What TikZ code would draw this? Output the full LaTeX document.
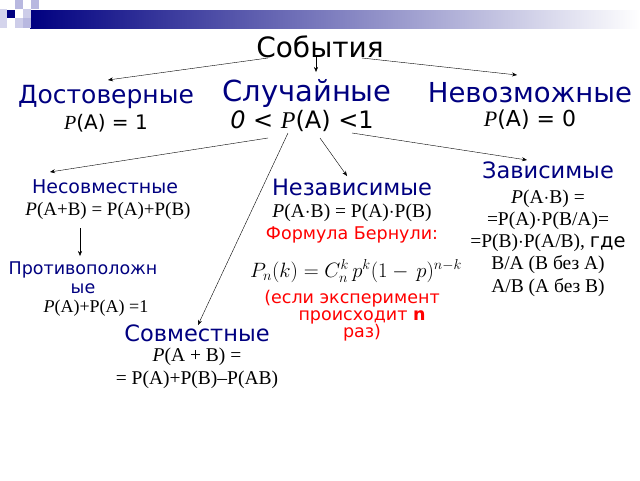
\documentclass[tikz,border=0pt]{standalone}
\usepackage{fontspec}
\setmainfont{DejaVu Sans}
\newfontfamily\ser{Liberation Serif}
\usetikzlibrary{arrows.meta}
\definecolor{navy}{HTML}{000080}
\definecolor{lav}{HTML}{B8B8E0}
\begin{document}
\begin{tikzpicture}[x=1pt,y=-1pt,
  head/.style={text=navy,inner sep=0pt,align=center},
  txt/.style={inner sep=0pt,align=center},
  red/.style={text=red,inner sep=0pt,align=center,font=\fontsize{17.5}{17}\selectfont},
  arr/.style={-{Stealth[length=5pt,width=4pt]},thin}]
\useasboundingbox (0,0) rectangle (640,480);
\fill[white] (0,0) rectangle (640,480);
% header
\shade[left color=navy,right color=white] (30,10) rectangle (640,28);
\fill[lav] (15,0) rectangle (23,9);
\fill[lav] (31,0) rectangle (39,9);
\fill[lav!70] (23,9) rectangle (31,18);
\fill[lav!70] (15,18) rectangle (23,28);
\fill[lav] (23,18) rectangle (31,28);
\fill[lav!60] (0,9) rectangle (7,28);
\fill[navy] (7,10) rectangle (15,18);
% nodes
\node[txt,font=\fontsize{28}{30}\selectfont] (ev) at (320,47) {События};
\node[head,font=\fontsize{25}{27}\selectfont] (dost) at (106,97) {Достоверные};
\node[txt,text=black,font=\fontsize{20}{22}\selectfont] (dostf) at (106,123) {{\ser\itshape P}(А) = 1};
\node[head,font=\fontsize{29}{31}\selectfont] (sl) at (307,93) {Случайные};
\node[txt,font=\fontsize{24}{26}\selectfont] (slf) at (302,121) {\itshape 0\upshape{} < {\ser\itshape P}(А) <1};
\node[head,font=\fontsize{27.5}{29}\selectfont] (nev) at (530,93) {Невозможные};
\node[txt,font=\fontsize{22}{24}\selectfont] (nevf) at (530,120) {{\ser\itshape P}(А) = 0};
\node[head,font=\fontsize{19}{21}\selectfont] (nes) at (105,187) {Несовместные};
\node[txt,font=\ser\fontsize{19}{21}\selectfont] (nesf) at (108,211) {{\itshape P}(А+В) = Р(А)+Р(В)};
\node[head,font=\fontsize{17.5}{19}\selectfont] (prot) at (83,278) {Противоположн\\ые};
\node[txt,font=\ser\fontsize{18}{20}\selectfont] (protf) at (96,308) {{\itshape P}(А)+Р(А) =1};
\node[head,font=\fontsize{22.5}{24}\selectfont] (nez) at (352,187) {Независимые};
\node[txt,font=\ser\fontsize{19.5}{21}\selectfont] (nezf) at (352,213) {{\itshape P}(А$\cdot$В) = Р(А)$\cdot$Р(В)};
\node[red] (bern) at (352,235) {Формула Бернули:};
\node[txt,font=\ser\fontsize{20}{22}\selectfont] (bf) at (356,271) {$P_n(k)=C_n^k\,p^k(1-\,p)^{n-k}$};
\node[red] (bt) at (352,316) {(если эксперимент\\\hspace*{20pt}происходит \textbf{n}\\\hspace*{20pt}раз)};
\node[head,font=\fontsize{22.5}{24}\selectfont] (zav) at (548,170) {Зависимые};
\node[txt,font=\ser\fontsize{19.5}{22.2}\selectfont] (zavf) at (548,243) {{\itshape P}(А$\cdot$В) =\\=Р(А)$\cdot$Р(В/А)=\\=Р(В)$\cdot$Р(А/В), {\fontspec{DejaVu Sans}где}\\В/А (В без А)\\А/В (А без В)};
\node[head,font=\fontsize{22.5}{24}\selectfont] (sov) at (197,333) {Совместные};
\node[txt,font=\ser\fontsize{19.5}{23}\selectfont] (sovf) at (197,368) {{\itshape P}(А + В) =\\= Р(А)+Р(В)–Р(АВ)};
% connector ends
\coordinate (e1) at (268,58); \coordinate (t1) at (108,80);
\coordinate (e2) at (316,55); \coordinate (t2) at (316,72);
\coordinate (e3) at (362,58); \coordinate (t3) at (517,75);
\coordinate (s1) at (268,138); \coordinate (u1) at (50,172);
\coordinate (s2) at (320,138); \coordinate (u2) at (347,176);
\coordinate (s3) at (352,133); \coordinate (u3) at (527,160);
\coordinate (s4) at (288,133); \coordinate (u4) at (198,325);
\coordinate (n1) at (80,228); \coordinate (p1) at (80,256);
\draw[arr] (e1) -- (t1);
\draw[arr] (e2) -- (t2);
\draw[arr] (e3) -- (t3);
\draw[arr] (s1) -- (u1);
\draw[arr] (s2) -- (u2);
\draw[arr] (s3) -- (u3);
\draw[arr] (s4) -- (u4);
\draw[arr] (n1) -- (p1);
\end{tikzpicture}
\end{document}
